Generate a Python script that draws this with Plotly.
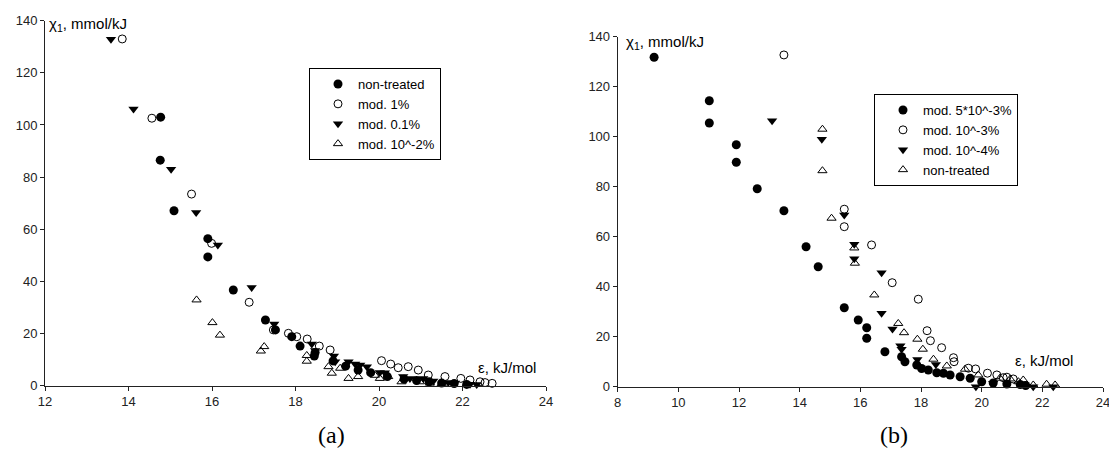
import plotly.graph_objects as go

# ---------- Panel (a) data ----------
a_nontreated_x = [14.77, 14.76, 15.09, 15.90, 15.90, 16.51, 17.28, 17.52, 17.91, 18.11, 18.47, 18.45, 18.90, 19.20, 19.50, 19.80, 20.20, 20.60, 20.90, 21.20, 21.50, 21.80, 22.10]
a_nontreated_y = [103.0, 86.5, 67.1, 56.4, 49.4, 36.7, 25.2, 21.4, 18.8, 15.2, 12.7, 11.4, 9.5, 7.5, 6.0, 5.0, 3.5, 2.5, 2.0, 1.5, 1.0, 0.8, 0.5]

a_mod1_x = [13.85, 14.56, 15.51, 15.99, 16.89, 17.47, 17.83, 18.03, 18.28, 18.57, 18.83, 20.06, 20.28, 20.46, 20.70, 20.94, 21.18, 21.58, 21.96, 22.18, 22.42, 22.54, 22.71]
a_mod1_y = [133.0, 102.6, 73.5, 54.6, 32.0, 21.4, 20.1, 18.8, 17.9, 15.2, 13.7, 9.6, 8.3, 6.9, 7.3, 6.0, 4.1, 3.5, 2.8, 2.2, 1.5, 1.2, 0.9]

a_mod01_x = [13.58, 14.12, 15.02, 15.62, 16.14, 16.95, 17.49, 18.39, 18.47, 18.92, 18.95, 19.27, 19.43, 19.55, 19.71, 20.02, 20.14, 20.58, 20.74, 21.06, 21.30, 21.66, 21.82, 22.18, 22.34]
a_mod01_y = [132.9, 106.1, 83.0, 66.4, 54.0, 37.7, 23.7, 16.0, 13.5, 11.4, 9.2, 9.2, 8.3, 7.9, 7.3, 5.1, 5.0, 3.5, 2.8, 2.8, 1.8, 1.2, 1.0, 0.6, 0.5]

a_mod1e2_x = [15.63, 16.01, 16.19, 17.17, 17.25, 18.27, 18.27, 18.79, 18.87, 19.07, 19.27, 19.50, 19.90, 20.02, 20.22, 20.54, 20.98, 21.22, 21.50, 22.10]
a_mod1e2_y = [32.9, 24.2, 19.4, 13.3, 15.0, 11.6, 9.4, 7.3, 4.8, 6.7, 2.8, 3.5, 4.0, 2.8, 3.5, 1.5, 1.5, 1.0, 0.7, 0.5]

# ---------- Panel (b) data ----------
b_mod5e3_x = [9.20, 11.02, 11.02, 11.91, 11.91, 12.60, 13.48, 14.21, 14.61, 15.47, 15.93, 16.21, 16.21, 16.81, 17.36, 17.47, 17.86, 18.02, 18.24, 18.52, 18.74, 18.96, 19.29, 19.62, 20.00, 20.38, 20.83, 21.27, 21.45]
b_mod5e3_y = [131.8, 114.4, 105.5, 96.8, 89.8, 79.2, 70.4, 56.0, 48.0, 31.6, 26.7, 23.6, 19.4, 14.0, 12.0, 10.0, 8.7, 7.3, 6.7, 5.6, 5.4, 4.7, 4.0, 3.4, 2.0, 1.5, 1.1, 0.9, 0.5]

b_mod1e3_x = [13.48, 15.47, 15.47, 16.37, 17.05, 17.91, 18.20, 18.31, 18.68, 19.07, 19.09, 19.56, 19.80, 20.19, 20.50, 20.71, 20.83, 21.04]
b_mod1e3_y = [132.7, 71.0, 64.0, 56.7, 41.6, 35.0, 22.4, 18.4, 15.6, 11.6, 10.0, 7.4, 7.1, 5.4, 4.7, 3.6, 3.8, 3.1]

b_mod1e4_x = [13.09, 14.73, 15.47, 15.80, 15.80, 16.70, 16.70, 17.06, 17.32, 17.36, 17.88, 18.49, 19.81, 20.38, 21.70, 22.36]
b_mod1e4_y = [106.4, 99.0, 68.7, 57.0, 51.2, 45.6, 29.4, 23.1, 16.4, 15.0, 10.9, 8.9, 0.0, 1.4, 0.0, 0.0]

b_nontreated_x = [14.75, 14.75, 15.05, 15.80, 15.82, 16.46, 17.25, 17.44, 17.88, 18.06, 18.41, 18.85, 19.45, 19.89, 20.60, 20.94, 21.21, 21.37, 21.70, 22.14, 22.42]
b_nontreated_y = [103.0, 86.4, 67.4, 55.5, 49.4, 36.7, 25.3, 21.6, 19.0, 15.0, 11.0, 8.3, 7.0, 4.7, 3.4, 3.1, 2.0, 2.7, 0.7, 1.0, 0.7]

a_labels = ["non-treated", "mod. 1%", "mod. 0.1%", "mod. 10^-2%"]
b_labels = ["mod. 5*10^-3%", "mod. 10^-3%", "mod. 10^-4%", "non-treated"]
x_ticks_a = [12, 14, 16, 18, 20, 22, 24]
x_ticks_b = [8, 10, 12, 14, 16, 18, 20, 22, 24]
y_ticks = [0, 20, 40, 60, 80, 100, 120, 140]

W, H = 1109, 450
FONT = "Liberation Sans, Arial, sans-serif"
SERIF = "Liberation Serif, Times New Roman, serif"

filled_circle = dict(symbol="circle", size=9, color="black", line=dict(width=0))
open_circle = dict(symbol="circle-open", size=8, color="black", line=dict(width=1))
filled_tri = dict(symbol="triangle-down", size=9, color="black", line=dict(width=0))
open_tri = dict(symbol="triangle-up-open", size=8, color="black", line=dict(width=1))

fig = go.Figure()
series_a = [(a_nontreated_x, a_nontreated_y, filled_circle),
            (a_mod1_x, a_mod1_y, open_circle),
            (a_mod01_x, a_mod01_y, filled_tri),
            (a_mod1e2_x, a_mod1e2_y, open_tri)]
for (xs, ys, mk), name in zip(series_a, a_labels):
    fig.add_trace(go.Scatter(x=xs, y=ys, mode="markers", marker=mk, name=name,
                             xaxis="x", yaxis="y", legend="legend", cliponaxis=False))

series_b = [(b_mod5e3_x, b_mod5e3_y, filled_circle),
            (b_mod1e3_x, b_mod1e3_y, open_circle),
            (b_mod1e4_x, b_mod1e4_y, filled_tri),
            (b_nontreated_x, b_nontreated_y, open_tri)]
for (xs, ys, mk), name in zip(series_b, b_labels):
    fig.add_trace(go.Scatter(x=xs, y=ys, mode="markers", marker=mk, name=name,
                             xaxis="x2", yaxis="y2", legend="legend2", cliponaxis=False))

axis_common = dict(showgrid=False, zeroline=False, showline=True, linecolor="#222",
                   linewidth=1, ticks="outside", ticklen=4, tickcolor="#222",
                   automargin=False, ticklabeloverflow="allow",
                   tickfont=dict(family=FONT, size=13, color="#222"))

fig.update_layout(
    template="none",
    width=W, height=H, margin=dict(l=0, r=0, t=0, b=0, pad=0),
    paper_bgcolor="white", plot_bgcolor="white",
    font=dict(family=FONT, size=13, color="black"),
    xaxis=dict(domain=[45 / W, 546 / W], range=[12, 24], tickvals=x_ticks_a,
               anchor="y", **axis_common),
    yaxis=dict(domain=[1 - 385.7 / H, 1 - 20.7 / H], range=[0, 140], tickvals=y_ticks,
               anchor="x", **axis_common),
    xaxis2=dict(domain=[617.7 / W, 1103 / W], range=[8, 24], tickvals=x_ticks_b,
                anchor="y2", **axis_common),
    yaxis2=dict(domain=[1 - 386.7 / H, 1 - 36.7 / H], range=[0, 140], tickvals=y_ticks,
                anchor="x2", **axis_common),
    legend=dict(x=309 / W, y=1 - 68 / H, xanchor="left", yanchor="top",
                bordercolor="black", borderwidth=1, bgcolor="white",
                font=dict(family=FONT, size=13), indentation=8, itemwidth=30),
    legend2=dict(x=874 / W, y=1 - 94 / H, xanchor="left", yanchor="top",
                 bordercolor="black", borderwidth=1, bgcolor="white",
                 font=dict(family=FONT, size=13), indentation=8, itemwidth=30),
    showlegend=True,
)

annotations = [
    dict(text="χ<sub>1</sub>, mmol/kJ", x=47 / W, y=1 - 24 / H, xref="paper", yref="paper",
         xanchor="left", yanchor="middle", showarrow=False, font=dict(family=FONT, size=15)),
    dict(text="χ<sub>1</sub>, mmol/kJ", x=624 / W, y=1 - 42 / H, xref="paper", yref="paper",
         xanchor="left", yanchor="middle", showarrow=False, font=dict(family=FONT, size=15)),
    dict(text="ε, kJ/mol", x=476 / W, y=1 - 367 / H, xref="paper", yref="paper",
         xanchor="left", yanchor="middle", showarrow=False, font=dict(family=FONT, size=15)),
    dict(text="ε, kJ/mol", x=1013 / W, y=1 - 360 / H, xref="paper", yref="paper",
         xanchor="left", yanchor="middle", showarrow=False, font=dict(family=FONT, size=15)),
    dict(text="(a)", x=331 / W, y=1 - 435 / H, xref="paper", yref="paper",
         xanchor="center", yanchor="middle", showarrow=False,
         font=dict(family=SERIF, size=24, color="black")),
    dict(text="(b)", x=894 / W, y=1 - 435 / H, xref="paper", yref="paper",
         xanchor="center", yanchor="middle", showarrow=False,
         font=dict(family=SERIF, size=24, color="black")),
]
fig.update_layout(annotations=annotations)

fig.write_html("out.html",
               config={"displayModeBar": False},
               post_script="document.body.style.margin='0px';document.body.style.padding='0px';")
